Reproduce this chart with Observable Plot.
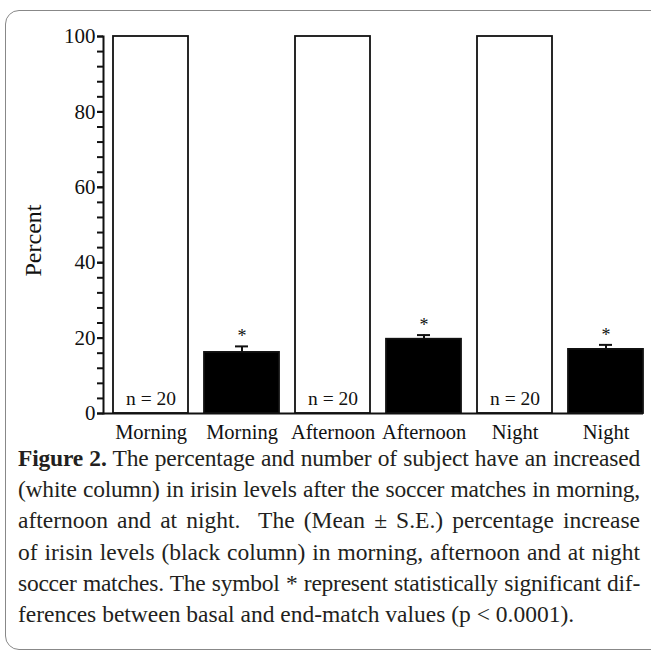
<!DOCTYPE html>
<html>
<head>
<meta charset="utf-8">
<script src="https://cdn.jsdelivr.net/npm/d3@7"></script>
<script src="https://cdn.jsdelivr.net/npm/@observablehq/plot@0.6"></script>
<style>
  html, body { margin: 0; padding: 0; background: #fff; width: 651px; height: 655px; overflow: hidden; }
  #box { position: absolute; left: 5px; top: 10px; width: 670px; height: 640px; border: 1px solid #888; border-radius: 14px; box-sizing: border-box; }
  #chart { position: absolute; left: 0; top: 0; }
  #caption { position: absolute; left: 18px; top: 443px; width: 622px; font-family: "Liberation Serif", "DejaVu Serif", serif; font-size: 23.5px; line-height: 31.2px; color: #231f20; }
  #caption span { display: block; white-space: nowrap; text-align: justify; text-align-last: justify; }
  #caption span.last { text-align-last: left; }
</style>
</head>
<body>
<div id="box"></div>
<div id="chart"></div>
<div id="caption"></div>
<script>
// ---- data ----
const keys = ["Morning-w", "Morning-b", "Afternoon-w", "Afternoon-b", "Night-w", "Night-b"];
const categoryLabels = ["Morning", "Morning", "Afternoon", "Afternoon", "Night", "Night"];
const columnKinds = ["white", "black", "white", "black", "white", "black"];
const values = [100, 16.2, 100, 19.7, 100, 17.0];
const stdErrors = [0, 1.6, 0, 1.1, 0, 1.2];
const nLabels = ["n = 20", "", "n = 20", "", "n = 20", ""];
const significance = ["", "*", "", "*", "", "*"];
const majorTicks = [0, 20, 40, 60, 80, 100];
const minorTicks = [0, 4, 8, 12, 16, 20, 24, 28, 32, 36, 40, 44, 48, 52, 56, 60, 64, 68, 72, 76, 80, 84, 88, 92, 96, 100];
const yLabel = "Percent";
const captionBold = "Figure 2.";
const captionLines = [
  " The percentage and number of subject have an increased",
  "(white column) in irisin levels after the soccer matches in morning,",
  "afternoon and at night.\u00a0 The (Mean \u00b1 S.E.) percentage increase",
  "of irisin levels (black column) in morning, afternoon and at night",
  "soccer matches. The symbol * represent statistically significant dif-",
  "ferences between basal and end-match values (p < 0.0001)."
];

const table = keys.map((k, i) => ({
  key: k, label: categoryLabels[i], kind: columnKinds[i],
  value: values[i], se: stdErrors[i], top: values[i] + stdErrors[i],
  n: nLabels[i], sig: significance[i]
}));
const blacks = table.filter(d => d.kind === "black");
const whites = table.filter(d => d.kind === "white");
const labelOf = new Map(table.map(d => [d.key, d.label]));

const plot = Plot.plot({
  width: 651,
  height: 445,
  marginLeft: 103,
  marginRight: 8,
  marginTop: 36,
  marginBottom: 32,
  style: { fontFamily: "'Liberation Serif', 'Times New Roman', serif", color: "#111", background: "transparent", overflow: "visible" },
  x: { domain: keys, paddingInner: 0.175, paddingOuter: 0.05, align: 1 },
  y: { domain: [0, 100] },
  marks: [
    Plot.barY(table, { x: "key", y: "value", fill: d => d.kind === "white" ? "white" : "black", stroke: "#111", strokeWidth: 1.8 }),
    Plot.ruleX(blacks, { x: "key", y1: "value", y2: "top", stroke: "#111", strokeWidth: 2 }),
    Plot.tickY(blacks, { x: "key", y: "top", stroke: "#111", strokeWidth: 2, insetLeft: 31, insetRight: 31 }),
    Plot.text(blacks, { x: "key", y: "top", text: "sig", dy: -10, fontSize: 18, fill: "#111" }),
    Plot.text(whites, { x: "key", y: 0, text: "n", dy: -15, fontSize: 19.5, fill: "#111" }),
    Plot.axisY({ ticks: minorTicks, tickSize: 6, text: null, stroke: "#111", strokeWidth: 2 }),
    Plot.axisY({ ticks: majorTicks, tickSize: 6, tickPadding: 2, fontSize: 21, stroke: "#111", strokeWidth: 2, label: null }),
    Plot.axisX({ tickSize: 0, tickPadding: 11, fontSize: 20.5, tickFormat: k => labelOf.get(k), label: null }),
    Plot.ruleY([0], { stroke: "#111", strokeWidth: 2 }),
    Plot.frame({ anchor: "left", stroke: "#111", strokeWidth: 2 }),
    Plot.text([yLabel], { frameAnchor: "left", textAnchor: "middle", text: d => d, rotate: -90, dx: -70, dy: 15.5, fontSize: 24, fill: "#111" })
  ]
});
document.getElementById("chart").appendChild(plot);

const cap = document.getElementById("caption");
const capWidth = 622;
captionLines.forEach((line, i) => {
  const s = document.createElement("span");
  if (i === captionLines.length - 1) s.className = "last";
  if (i === 0) {
    const b = document.createElement("b");
    b.textContent = captionBold;
    s.appendChild(b);
  }
  s.appendChild(document.createTextNode(line));
  cap.appendChild(s);
  // shrink letter spacing if the natural width would overflow the line
  s.style.display = "inline-block";
  const w = s.getBoundingClientRect().width;
  s.style.display = "";
  if (w > capWidth - 4) {
    const chars = (i === 0 ? captionBold.length : 0) + line.length;
    s.style.letterSpacing = (-(w - capWidth + 6) / chars).toFixed(3) + "px";
  }
});
</script>
</body>
</html>
